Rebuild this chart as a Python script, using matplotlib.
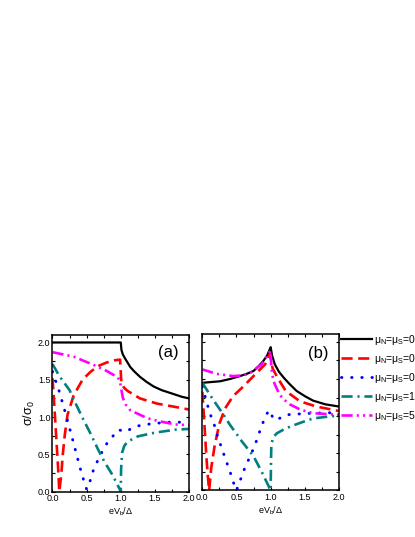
import matplotlib.pyplot as plt
from matplotlib.ticker import MultipleLocator, FormatStrFormatter

plt.rcParams['font.family'] = ['Liberation Sans', 'DejaVu Sans']
plt.rcParams['mathtext.fontset'] = 'custom'
plt.rcParams['mathtext.rm'] = 'Liberation Sans'
plt.rcParams['mathtext.it'] = 'Liberation Sans'
plt.rcParams['lines.scale_dashes'] = False

# panel (a)
xa_black = [0, 1.0, 1.01, 1.03, 1.06, 1.1, 1.14, 1.2, 1.28, 1.38, 1.48, 1.6, 1.7, 1.8, 1.9, 2.0]
ya_black = [2.0, 2.0, 1.9, 1.84, 1.79, 1.73, 1.67, 1.61, 1.54, 1.47, 1.41, 1.36, 1.33, 1.30, 1.27, 1.25]
xa_red = [0, 0.02, 0.04, 0.06, 0.08, 0.1, 0.13, 0.15, 0.18, 0.22, 0.31, 0.44, 0.55, 0.66, 0.79, 0.9, 0.99,
          1.0, 1.01, 1.05, 1.1, 1.28, 1.53, 1.77, 2.0]
ya_red = [1.52, 1.25, 0.95, 0.65, 0.35, 0.0, 0.24, 0.49, 0.76, 1.03, 1.29, 1.50, 1.60, 1.68, 1.73, 1.76, 1.77,
          1.6, 1.45, 1.39, 1.35, 1.25, 1.18, 1.14, 1.10]
xa_blue = [0, 0.1, 0.2, 0.3, 0.4, 0.48, 0.5, 0.53, 0.6, 0.7, 0.8, 0.9, 0.97, 1.0, 1.05, 1.1, 1.25, 1.45, 1.7, 2.0]
ya_blue = [1.61, 1.34, 1.02, 0.68, 0.33, 0.08, 0.03, 0.08, 0.29, 0.49, 0.65, 0.76, 0.83, 0.82, 0.80, 0.82, 0.88,
           0.91, 0.93, 0.93]
xa_teal = [0, 0.1, 0.25, 0.35, 0.45, 0.55, 0.67, 0.76, 0.88, 0.98, 1.0, 1.005, 1.02, 1.05, 1.1, 1.25, 1.5, 1.8, 2.0]
ya_teal = [1.71, 1.55, 1.36, 1.16, 0.97, 0.79, 0.56, 0.40, 0.22, 0.04, 0.0, 0.3, 0.52, 0.61, 0.67, 0.74, 0.79,
           0.83, 0.84]
xa_mag = [0, 0.31, 0.6, 0.79, 0.96, 0.99, 1.01, 1.03, 1.07, 1.14, 1.28, 1.4, 1.58, 1.8, 2.0]
ya_mag = [1.87, 1.81, 1.70, 1.62, 1.53, 1.47, 1.36, 1.26, 1.17, 1.09, 1.03, 0.98, 0.94, 0.90, 0.89]

# panel (b)
xb_black = [0, 0.26, 0.4, 0.55, 0.65, 0.75, 0.82, 0.89, 0.95, 1.0, 1.02, 1.06, 1.12, 1.19, 1.28, 1.38, 1.5,
            1.62, 1.8, 2.0]
yb_black = [1.45, 1.47, 1.50, 1.54, 1.57, 1.61, 1.67, 1.74, 1.82, 1.93, 1.82, 1.70, 1.60, 1.52, 1.43, 1.34, 1.27,
            1.21, 1.16, 1.13]
xb_red = [0, 0.02, 0.04, 0.06, 0.08, 0.1, 0.13, 0.18, 0.25, 0.33, 0.45, 0.6, 0.77, 0.92, 0.99,
          1.01, 1.03, 1.1, 1.22, 1.43, 1.67, 2.0]
yb_red = [1.33, 1.05, 0.75, 0.45, 0.2, 0.0, 0.3, 0.6, 0.9, 1.1, 1.27, 1.40, 1.56, 1.70, 1.84,
          1.72, 1.64, 1.52, 1.34, 1.20, 1.13, 1.07]
xb_blue = [0, 0.11, 0.17, 0.22, 0.28, 0.34, 0.40, 0.45, 0.5, 0.56, 0.62, 0.70, 0.77, 0.83, 0.89, 0.97, 1.0,
           1.04, 1.08, 1.24, 1.41, 1.6, 2.0]
yb_blue = [1.40, 1.04, 0.90, 0.74, 0.58, 0.42, 0.27, 0.12, 0.0, 0.15, 0.30, 0.46, 0.61, 0.77, 0.92, 1.08, 1.05,
           0.96, 0.95, 1.02, 1.03, 1.04, 1.05]
xb_teal = [0, 0.16, 0.31, 0.40, 0.58, 0.75, 0.87, 1.0, 1.005, 1.01, 1.04, 1.09, 1.23, 1.43, 1.62, 1.8, 2.0]
yb_teal = [1.45, 1.22, 1.02, 0.89, 0.66, 0.46, 0.25, 0.0, 0.4, 0.62, 0.72, 0.77, 0.84, 0.91, 0.97, 0.99, 1.01]
xb_mag = [0, 0.21, 0.45, 0.6, 0.7, 0.87, 0.97, 1.0, 1.01, 1.03, 1.06, 1.13, 1.2, 1.28, 1.43, 1.62, 2.0]
yb_mag = [1.63, 1.57, 1.54, 1.55, 1.58, 1.70, 1.85, 1.88, 1.65, 1.53, 1.43, 1.29, 1.22, 1.16, 1.09, 1.04, 1.02]

labels = [r'μ$_\mathregular{N}$=μ$_\mathregular{S}$=0',
          r'μ$_\mathregular{N}$=μ$_\mathregular{S}$=0.5Δ',
          r'μ$_\mathregular{N}$=μ$_\mathregular{S}$=0.9Δ',
          r'μ$_\mathregular{N}$=μ$_\mathregular{S}$=1.5Δ',
          r'μ$_\mathregular{N}$=μ$_\mathregular{S}$=5Δ']

fig = plt.figure(figsize=(4.15, 5.37), dpi=100)
ax_a = fig.add_axes([0.1265, 0.0847, 0.329, 0.2914])
ax_b = fig.add_axes([0.4875, 0.0866, 0.3294, 0.2905])

def draw(ax, curves):
    (xk, yk), (xr, yr), (xbl, ybl), (xt, yt), (xm, ym) = curves
    h1, = ax.plot(xk, yk, color='black', lw=1.6)
    h2, = ax.plot(xr, yr, color='red', lw=1.9, dashes=(8, 4))
    h3, = ax.plot(xbl, ybl, color='blue', lw=2.1, dashes=(0.3, 7), dash_capstyle='round')
    h4, = ax.plot(xt, yt, color='#008080', lw=1.9, dashes=(8, 3.5, 1.5, 3.5))
    h5, = ax.plot(xm, ym, color='#FF00FF', lw=1.9, dashes=(8, 3, 1.5, 3, 1.5, 3))
    ax.set_xlim(0, 2.0)
    ax.set_ylim(0, 2.1)
    ax.xaxis.set_major_locator(MultipleLocator(0.5))
    ax.xaxis.set_minor_locator(MultipleLocator(0.25))
    ax.yaxis.set_major_locator(MultipleLocator(0.5))
    ax.yaxis.set_minor_locator(MultipleLocator(0.25))
    ax.xaxis.set_major_formatter(FormatStrFormatter('%.1f'))
    ax.yaxis.set_major_formatter(FormatStrFormatter('%.1f'))
    ax.tick_params(which='both', direction='in', top=True, right=True, length=2.5, width=0.8,
                   labelsize=6.5, pad=1.5)
    for s in ax.spines.values():
        s.set_linewidth(1.1)
    ax.set_xlabel(r'eV$_\mathregular{b}$/Δ', fontsize=6.5, labelpad=2)
    return [h1, h2, h3, h4, h5]

handles = draw(ax_a, [(xa_black, ya_black), (xa_red, ya_red), (xa_blue, ya_blue),
                      (xa_teal, ya_teal), (xa_mag, ya_mag)])
draw(ax_b, [(xb_black, yb_black), (xb_red, yb_red), (xb_blue, yb_blue),
            (xb_teal, yb_teal), (xb_mag, yb_mag)])
ax_b.tick_params(labelleft=False)

ax_a.set_ylabel(r'σ/σ$_\mathregular{0}$', fontsize=9, labelpad=1)
ax_a.text(0.845, 0.89, '(a)', transform=ax_a.transAxes, fontsize=12, ha='center', va='center')
ax_b.text(0.85, 0.88, '(b)', transform=ax_b.transAxes, fontsize=12, ha='center', va='center')

fig.legend(handles, labels, loc='upper left', bbox_to_anchor=(341 / 415, 1 - 333 / 537),
           frameon=False, fontsize=7.5, handlelength=3.0, handletextpad=0.2,
           labelspacing=0.48, borderpad=0, borderaxespad=0)

fig.savefig('out.png', dpi=100)
